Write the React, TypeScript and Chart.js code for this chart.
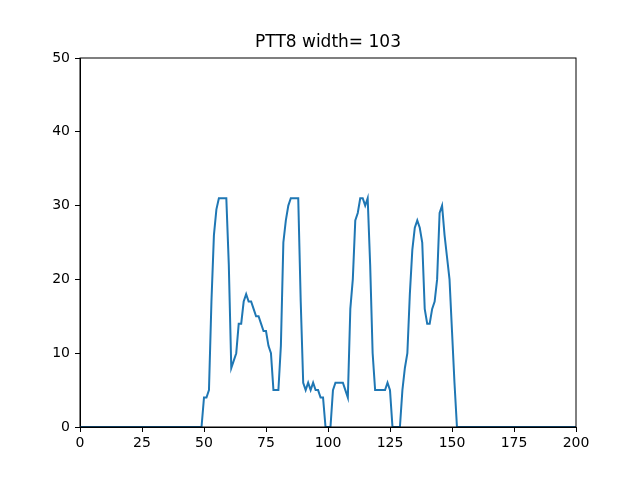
import React, { useEffect, useRef } from "react";
import { Chart, registerables } from "chart.js";

Chart.register(...registerables);

const xValues = [
  0, 49, 50, 51, 52, 53, 54, 55, 56, 57, 58, 59, 60, 61, 62, 63, 64, 65, 66, 67, 68, 69, 70,
  71, 72, 73, 74, 75, 76, 77, 78, 79, 80, 81, 82, 83, 84, 85, 86, 87, 88, 89, 90, 91, 92, 93,
  94, 95, 96, 97, 98, 99, 100, 101, 102, 103, 104, 105, 106, 107, 108, 109, 110, 111, 112, 113,
  114, 115, 116, 117, 118, 119, 120, 121, 122, 123, 124, 125, 126, 127, 128, 129, 130, 131, 132,
  133, 134, 135, 136, 137, 138, 139, 140, 141, 142, 143, 144, 145, 146, 147, 148, 149, 150, 151,
  152, 200,
];
const yValues = [
  0, 0, 4, 4, 5, 17, 26, 29.5, 31, 31, 31, 31, 22, 8, 9, 10, 14, 14, 17, 18, 17, 17, 16,
  15, 15, 14, 13, 13, 11, 10, 5, 5, 5, 11, 25, 28, 30, 31, 31, 31, 31, 17, 6, 5, 6, 5,
  6, 5, 5, 4, 4, 0, 0, 0, 5, 6, 6, 6, 6, 5, 4, 16, 20, 28, 29, 31,
  31, 30, 31, 22, 10, 5, 5, 5, 5, 5, 6, 5, 0, 0, 0, 0, 5, 8, 10,
  18, 24, 27, 28, 27, 25, 16, 14, 14, 16, 17, 20, 29, 30, 26, 23, 20, 13, 6,
  0, 0,
];
const titleText = "PTT8 width= 103";

// frame on all four sides plus a title centred over the plot area
const frame = {
  id: "frame",
  afterDraw(chart: Chart) {
    const { ctx, chartArea } = chart;
    ctx.save();
    ctx.strokeStyle = "#000";
    ctx.lineWidth = 1;
    ctx.strokeRect(chartArea.left, chartArea.top, chartArea.right - chartArea.left, chartArea.bottom - chartArea.top);
    ctx.fillStyle = "#000";
    ctx.font = "17px 'DejaVu Sans'";
    ctx.textAlign = "center";
    ctx.textBaseline = "middle";
    ctx.fillText(titleText, (chartArea.left + chartArea.right) / 2, 43);
    ctx.restore();
  },
};

export default function App() {
  const canvasRef = useRef<HTMLCanvasElement | null>(null);

  useEffect(() => {
    document.body.style.margin = "0";
    if (!canvasRef.current) return;
    const font = { family: "DejaVu Sans", size: 14 };
    const chart = new Chart(canvasRef.current, {
      type: "line",
      data: {
        datasets: [
          {
            data: xValues.map((x, i) => ({ x, y: yValues[i] })),
            borderColor: "#1f77b4",
            borderWidth: 2,
            pointRadius: 0,
            tension: 0,
          },
        ],
      },
      options: {
        responsive: false,
        animation: false,
        layout: { padding: { left: 0, right: 64, top: 58, bottom: 0 } },
        plugins: {
          legend: { display: false },
          tooltip: { enabled: false },
        },
        scales: {
          x: {
            type: "linear",
            min: 0,
            max: 200,
            ticks: { stepSize: 25, color: "#000", font, padding: 3 },
            grid: { drawOnChartArea: false, tickLength: 5, color: "#000" },
            border: { color: "#000" },
            afterFit: (s: any) => { s.height = 53; },
          },
          y: {
            min: 0,
            max: 50,
            ticks: { stepSize: 10, color: "#000", font, padding: 5 },
            grid: { drawOnChartArea: false, tickLength: 5, color: "#000" },
            border: { color: "#000" },
            afterFit: (s: any) => { s.width = 80; },
          },
        },
      },
      plugins: [frame],
    });
    return () => chart.destroy();
  }, []);

  return <canvas ref={canvasRef} width={640} height={480} style={{ display: "block" }} />;
}
